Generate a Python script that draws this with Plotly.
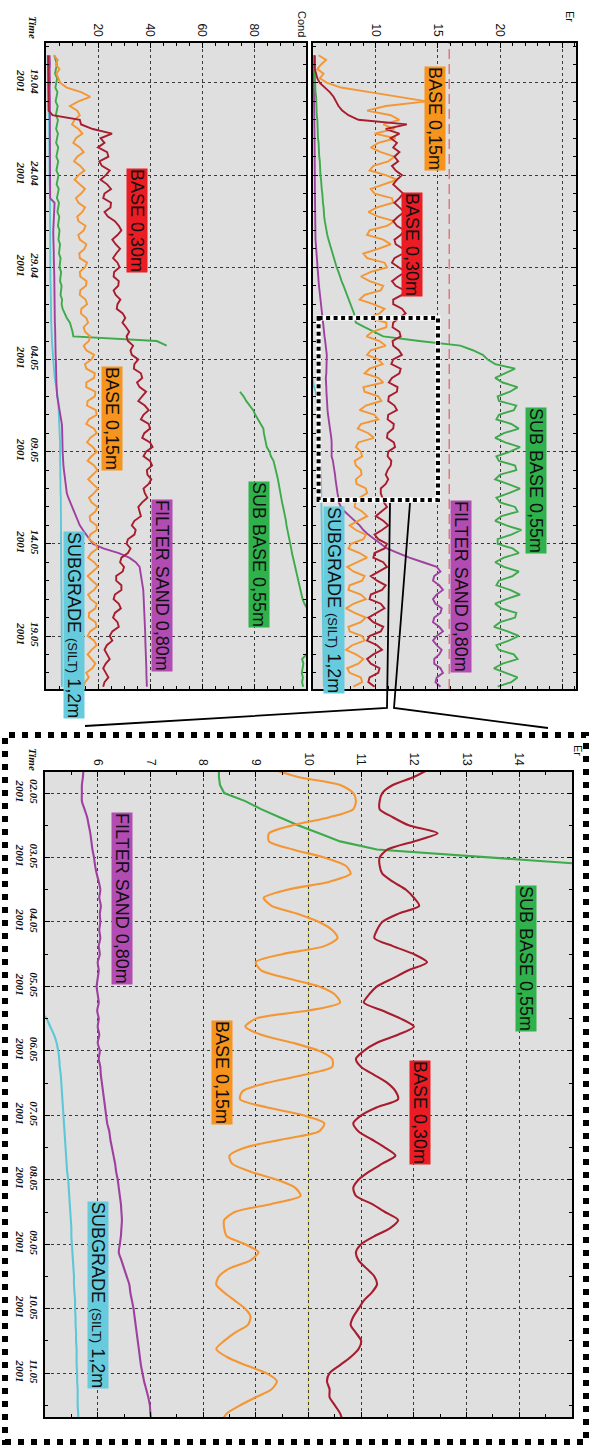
import pandas as pd
import plotly.graph_objects as go

# ---------------------------------------------------------------- time bases
main_time = pd.date_range("2001-04-17 12:00", periods=138, freq="6h")
zoom_time = pd.date_range("2001-05-01 15:00", periods=82, freq="3h")

# ---------------------------------------------------------------- Er, full period
er_base015 = [
    5.4, 6.0, 5.6, 5.3, 5.8, 5.5, 6.1, 7.2,
    9.5, 12.0, 14.1, 10.8, 9.3,
    11.2, 11.9, 10.6, 11.5, 9.9, 11.6, 10.2,
    9.6, 10.4, 11.5, 11.0, 9.8, 9.5, 10.8, 11.7, 10.6, 9.6, 9.9, 11.3, 11.4, 10.1, 9.4, 10.2,
    11.5, 10.9, 9.5, 9.3, 10.6, 11.2, 10.2, 9.0, 9.3, 10.7, 10.9, 9.6, 8.8, 9.5, 10.6, 10.4,
    9.1, 8.7, 9.8, 10.7, 10.3, 9.4,
    10.85, 10.85, 9.7, 9.25, 10.3, 10.8, 9.6, 9.3, 10.2, 10.55, 9.5, 9.1, 10.2, 10.6, 9.0, 9.1,
    10.2, 10.45, 9.2, 8.7, 9.9, 10.2, 8.8, 8.55, 9.4, 9.85, 8.6, 8.4, 8.8, 8.9, 8.3, 8.4,
    8.8, 8.85, 8.4, 8.45, 9.2, 9.3, 8.7, 8.35,
    8.3, 8.9, 9.3, 8.6, 7.9, 8.4, 9.2, 9.0, 8.0, 7.8, 8.7, 9.3, 8.5, 7.7, 8.2, 9.1, 8.9, 7.9,
    7.8, 8.8, 9.2, 8.2, 7.6, 8.3, 9.2, 8.8, 7.8, 7.9, 8.9, 9.1, 8.1, 7.6, 8.4, 9.0, 8.6, 7.7,
    7.9, 8.8, 8.9, 8.2,
]
er_base030 = [
    5.1, 5.1, 5.15, 5.1, 5.2, 5.3, 5.5, 5.9, 6.3, 6.6, 6.8, 7.0, 7.3, 7.8, 8.6,
    12.5, 10.8, 11.9, 11.2, 11.7, 11.4, 11.9, 11.5, 11.8, 11.3, 11.6, 12.1, 11.7, 11.4, 11.8,
    12.2, 11.9, 11.5, 11.9, 12.3, 11.8, 11.4, 11.7, 12.3, 12.0, 11.5, 11.6, 12.2, 12.2, 11.5,
    11.3, 11.9, 12.4, 11.8, 11.3, 11.6, 12.3, 12.1, 11.4, 11.4, 12.1, 12.4, 11.9,
    11.4, 11.35, 11.9, 12.0, 11.35, 11.4, 11.85, 12.1, 11.4, 11.25, 12.0, 11.9, 11.3, 11.05,
    11.75, 11.7, 11.05, 11.0, 11.5, 11.7, 11.0, 10.95, 11.45, 11.4, 10.95, 10.9, 11.45, 11.55,
    11.0, 10.95, 11.25, 11.2, 10.95, 10.8, 11.0, 10.8, 10.4, 10.4, 10.5, 10.65,
    10.9, 10.4, 10.0, 10.6, 11.0, 10.5, 9.9, 10.2, 10.9, 10.7, 9.9, 9.8, 10.6, 10.9, 10.2, 9.6,
    10.1, 10.8, 10.5, 9.6, 9.5, 10.4, 10.7, 10.0, 9.4, 9.8, 10.6, 10.4, 9.5, 9.3, 10.1, 10.5,
    9.8, 9.3, 9.6, 10.3, 10.2, 9.5, 9.4, 9.9,
]
er_subbase055 = [
    5.0, 5.0, 5.05, 5.05, 5.1, 5.1, 5.1, 5.15, 5.15, 5.2,
    5.2, 5.2, 5.25, 5.25, 5.3, 5.3, 5.3, 5.35, 5.35, 5.4,
    5.4, 5.45, 5.45, 5.5, 5.5, 5.55, 5.55, 5.6, 5.6, 5.65,
    5.7, 5.7, 5.75, 5.8, 5.8, 5.85, 5.9, 5.95, 6.0, 6.1,
    6.2, 6.3, 6.4, 6.5, 6.6, 6.7, 6.85, 7.0, 7.1, 7.25,
    7.4, 7.55, 7.7, 7.85, 8.0, 8.15, 8.25, 8.3,
    8.4, 9.1, 9.8, 10.6, 13.5,
    16.8, 17.8, 18.6, 19.0, 19.6, 21.2, 20.4, 19.6, 20.2, 21.4,
    20.8, 19.8, 19.9, 21.3, 21.1, 19.9, 19.7, 20.9, 21.5, 20.3,
    19.6, 20.4, 21.6, 20.8, 19.7, 19.9, 21.2, 21.3, 20.0, 19.6,
    20.6, 21.6, 20.7, 19.7, 20.0, 21.2, 21.4, 20.1, 19.6, 20.5,
    21.7, 20.9, 19.8, 19.8, 21.0, 21.5, 20.3, 19.6, 20.3, 21.5,
    21.0, 19.9, 19.7, 20.8, 21.6, 20.5, 19.6, 20.1, 21.3, 21.2,
    20.0, 19.5, 20.6, 21.5, 20.7, 19.7, 19.9, 21.1, 21.4, 20.2,
    19.5, 20.4, 21.4, 20.9, 19.8,
]
er_filtersand080 = [
    4.95, 4.98, 5.0, 5.0, 5.0, 5.02, 5.0, 5.02, 5.03, 5.03,
    5.04, 5.04, 5.05, 5.05, 5.06, 5.06, 5.07, 5.07, 5.08, 5.08,
    5.08, 5.09, 5.09, 5.1, 5.1, 5.1, 5.1, 5.1, 5.1, 5.1,
    5.1, 5.1, 5.1, 5.1, 5.1, 5.1, 5.1, 5.1, 5.1, 5.12,
    5.15, 5.18, 5.2, 5.22, 5.25, 5.28, 5.3, 5.33, 5.36, 5.4,
    5.43, 5.47, 5.5, 5.54, 5.58, 5.62, 5.66, 5.7,
    5.7, 5.75, 5.83, 5.88, 5.93, 5.98, 6.05, 6.06, 6.05, 6.05,
    6.04, 6.02, 5.98, 6.02, 6.02, 6.03, 6.04, 6.05, 6.08, 6.12,
    6.16, 6.22, 6.27, 6.33, 6.38, 6.42, 6.45, 6.45, 6.42, 6.45,
    6.55, 6.62, 6.68, 6.72, 6.76, 6.8, 6.85, 6.92, 6.99, 7.02,
    7.2, 7.5, 7.9, 8.3, 8.7, 9.0, 9.4, 9.9, 10.4, 10.9,
    11.8, 12.7, 13.8, 14.9, 15.2, 14.7, 14.6, 15.1, 15.4, 14.9,
    14.6, 14.8, 15.3, 15.2, 14.7, 14.6, 15.1, 15.4, 14.9, 14.6,
    14.9, 15.3, 15.1, 14.7, 14.7, 15.2, 15.4, 14.9, 14.8, 15.2,
]
# subgrade is only logged from 05.05 onwards (main_time[70:])
er_subgrade = [
    4.9, 4.96,
    5.03, 5.17, 5.25, 5.28, 5.31, 5.33, 5.35, 5.37, 5.39, 5.41, 5.44, 5.46, 5.48, 5.5,
    5.51, 5.53, 5.55, 5.56, 5.57, 5.58, 5.59, 5.6, 5.61, 5.62, 5.62, 5.63,
    5.63, 5.64, 5.64, 5.65, 5.65, 5.66, 5.66, 5.67, 5.67, 5.68, 5.68, 5.69, 5.69, 5.7,
    5.7, 5.71, 5.71, 5.72, 5.72, 5.73, 5.73, 5.74, 5.74, 5.75, 5.75, 5.76, 5.76, 5.77,
    5.77, 5.78, 5.78, 5.79, 5.79, 5.8, 5.8, 5.81, 5.81, 5.82, 5.82, 5.83,
]

# ---------------------------------------------------------------- conductivity
cond_base030 = [
    0.8, 0.8, 0.9, 0.8, 0.8, 0.9, 0.8, 0.8, 0.9, 0.8, 0.8, 0.9, 1.0,
    2.5, 13.0, 13.5, 18.0, 25.4, 21.0,
    22.5, 20.0, 23.5, 24.0, 20.5, 21.5, 24.5, 23.0, 21.0, 23.5,
    25.0, 22.5, 22.0, 25.0, 24.8, 22.5, 23.8, 26.5, 28.0, 29.0,
    27.5, 25.5, 26.8, 28.5, 27.0, 25.8, 27.5, 28.3, 26.2, 26.0,
    28.0, 27.8, 26.0, 26.8, 28.6, 27.5, 27.2, 29.5, 30.5, 29.4,
    30.8, 32.0, 31.0, 31.5, 33.5, 32.5, 33.0, 35.5, 34.0, 33.8,
    36.5, 37.0, 35.0, 36.0, 38.5, 37.0, 35.5, 38.0, 39.5, 37.5,
    36.5, 39.5, 40.0, 37.8, 37.0, 40.0, 41.0, 38.5, 37.5, 40.0,
    40.8, 38.8,
    39.0, 40.5, 39.5, 37.5, 38.0, 39.0, 37.0, 35.5, 36.0, 36.5,
    34.0, 33.0, 34.5, 34.0, 31.5, 31.0, 32.5, 31.5, 29.0, 28.5,
    30.0, 29.5, 27.0, 27.0, 29.0, 29.0, 26.5, 26.0, 28.0, 28.8,
    26.5, 25.8, 27.5, 28.0, 25.5, 24.5, 25.5, 23.4, 22.5, 23.5,
    24.5, 23.0, 22.0, 23.0, 24.0, 22.5, 22.0,
]
cond_base015 = [
    3.0, 4.5, 3.8, 5.2, 4.0, 4.8, 5.5, 8.0, 13.5, 17.0,
    12.5, 9.2, 12.0, 13.0, 11.0, 10.0, 12.5, 14.0, 11.5, 10.5,
    13.0, 14.5, 12.0, 10.8, 13.2, 14.8, 12.5, 11.0, 12.8, 15.0,
    13.5, 11.5, 12.5, 15.0, 14.0, 12.0, 12.5, 15.2, 14.5,
    12.4, 13.0, 15.5, 14.8, 12.8, 13.0, 15.8, 15.0, 13.0, 13.2,
    15.6, 15.4, 13.2, 13.0, 15.2, 15.8, 13.6, 13.4, 15.5, 16.2,
    14.5, 15.0, 17.0, 16.5, 14.5, 15.5, 18.5, 17.5, 15.0, 15.5,
    18.8, 18.5, 15.5, 15.5, 19.0, 18.8, 16.0, 15.8, 19.2, 19.5,
    16.5, 15.5, 18.5, 19.5, 17.0, 15.8, 18.0, 19.5, 17.5, 16.0,
    18.5, 19.8, 18.0, 16.2, 18.0, 20.0, 18.5, 16.5, 17.5, 19.8,
    19.0, 16.8, 17.0, 19.5, 19.5, 17.0, 16.5, 19.0, 19.8, 17.5,
    16.2, 18.5, 20.0, 18.0, 16.0, 17.8, 19.8, 18.5, 16.2, 17.2,
    19.5, 19.0, 16.5, 16.5, 19.0, 19.5, 17.0, 16.0, 18.5, 19.5,
    17.5, 16.0, 17.5, 19.0, 17.8, 15.5, 16.5, 15.0, 14.5,
]
cond_subbase055 = [
    3.2, 3.6, 4.2, 3.8, 3.5, 4.3, 4.0, 3.6, 4.4, 4.1,
    3.7, 4.5, 4.2, 3.8, 4.6, 4.2, 3.9, 4.6, 4.3, 3.9,
    4.7, 4.3, 4.0, 4.7, 4.4, 4.0, 4.8, 4.5, 4.1, 4.9,
    4.6, 4.2, 5.0, 4.7, 4.4, 5.1, 4.8, 4.6, 5.2, 4.9,
    4.8, 5.4, 5.1, 5.0, 5.6, 5.3, 5.2, 5.8, 5.5, 5.4,
    6.0, 5.7, 5.6, 6.2, 6.0, 6.4, 7.2,
    8.0, 9.2, 9.8, 10.2, 10.5, 42.6, 46.4,
    None, None, None, None, None, None, None, None, None,
    74.6, 76.0, 77.0, 78.5, 79.7, 80.5, 81.5, 82.5, 83.6, 83.8,
    84.2, 84.6, 84.9, 86.0, 86.5, 87.5, 88.0, 88.3, 88.8, 89.2,
    89.5, 89.8, 90.0, 90.4, 90.8, 91.2, 91.6, 92.0, 92.3, 92.5,
    92.9, 93.3, 93.6, 94.0, 94.3, 94.6, 95.0, 95.3, 95.7, 96.1,
    96.5, 96.9, 97.3, 97.7, 98.2, 98.7, 99.4, 100.5, 101.5, 102.5,
    103.0, 103.5, 103.0, 102.5, 102.0, 101.5, 100.8, 100.2, 98.5, 99.0,
    98.8, 98.4, 98.8, 98.5, 98.9,
]
cond_filtersand080 = [
    1.4, 1.5, 1.5, 1.4, 1.5, 1.5, 1.5, 1.4, 1.5, 1.5,
    1.5, 1.5, 1.4, 1.5, 1.5, 1.5, 1.5, 1.5, 1.4, 1.5,
    1.5, 1.5, 1.5, 1.5, 1.5, 1.4, 1.5, 1.5, 1.5, 1.5,
    1.6, 1.6,
    3.3, 3.2, 3.0, 3.0, 2.9, 2.8, 2.8, 2.8, 2.9, 2.9,
    3.0, 3.0, 3.0, 3.1, 3.1, 3.1, 3.2, 3.2, 3.2, 3.3,
    3.3, 3.3, 3.3, 3.4, 3.4, 3.4, 3.4, 3.5, 3.5, 3.5,
    3.6, 3.6, 3.7, 3.7, 3.8, 3.8, 3.9, 3.9, 4.0, 4.0,
    4.1, 4.1, 4.3, 4.6, 4.9, 5.3, 5.7, 6.0, 6.1, 6.2,
    6.2, 6.3, 6.3, 6.4, 6.4, 6.5,
    6.5, 6.7, 6.9, 7.1, 7.3, 7.5, 7.7, 8.0, 8.6, 9.3,
    10.0, 10.8, 11.6, 12.3, 13.0, 14.2, 15.5, 16.8, 18.0, 22.0,
    28.0, 32.0, 34.5, 36.0, 36.3, 36.6, 36.9, 37.1, 37.4, 37.5,
    37.6, 37.6, 37.7, 37.8, 37.9, 38.0, 38.0, 38.1, 38.2, 38.2,
    38.3, 38.4, 38.4, 38.5, 38.5, 38.6, 38.6, 38.7, 38.7, 38.8,
]
cond_subgrade = [
    0.6, 0.7, 0.8, 0.8, 0.8, 0.9, 0.9, 0.9, 1.0, 1.0,
    1.0, 1.1, 1.1, 1.1, 1.2, 1.2, 1.2, 1.2, 1.3, 1.3,
    1.3, 1.3, 1.3, 1.4, 1.4, 1.4, 1.4, 1.4, 1.4, 1.5,
    1.5, 1.5, 1.5, 1.5, 1.5, 1.5, 1.5, 1.5,
    1.5, 1.5, 1.5, 1.6, 1.6, 1.6, 1.6, 1.6, 1.7, 1.7,
    1.7, 1.7, 1.8, 1.8, 1.8, 1.9, 1.9, 1.9, 2.0, 2.0,
    2.0, 2.1, 2.1,
    2.2, 2.3, 2.4, 2.5, 2.6, 2.7, 2.8, 3.0, 3.2, 3.4,
    3.7, 4.0, 4.3, 4.5, 4.7, 4.8, 4.9, 5.0, 5.1, 5.2,
    5.3, 5.3, 5.4, 5.4, 5.4, 5.4, 5.5, 5.5,
    5.5, 5.5, 5.6, 5.6, 5.6, 5.6, 5.6, 5.7, 5.7, 5.7,
    5.7, 5.7, 5.7, 5.8, 5.8, 5.8, 5.8, 5.8, 5.8, 5.8,
    5.9, 5.9, 5.9, 5.9, 5.9, 5.9, 5.9, 5.9, 6.0, 6.0,
    6.0, 6.0, 6.0, 6.0, 6.0, 6.0, 6.0, 6.0, 6.0, 6.1,
    6.1, 6.1, 6.1, 6.1, 6.1, 6.1, 6.1, 6.1, 6.1,
]

# ---------------------------------------------------------------- Er detail, 01.05 - 11.05
zoom_base015 = [
    9.3, 9.8, 10.6, 10.85, 10.9, 10.85, 10.4, 9.7, 9.25, 9.25,
    9.7, 10.3, 10.7, 10.8, 10.4, 9.6, 9.15, 9.3, 9.8, 10.2,
    10.45, 10.55, 10.3, 9.5, 9.0, 9.1, 9.6, 10.2, 10.5, 10.6,
    10.0, 9.0, 8.8, 9.1, 9.7, 10.2, 10.45, 10.45, 9.9, 9.2,
    8.75, 8.7, 9.2, 9.9, 10.3, 10.2, 9.5, 8.8, 8.5, 8.55,
    8.9, 9.4, 9.75, 9.85, 9.3, 8.6, 8.4, 8.4, 8.45, 8.8,
    9.05, 8.9, 8.5, 8.3, 8.25, 8.4, 8.6, 8.8, 8.9, 8.85,
    8.6, 8.4, 8.25, 8.45, 8.8, 9.2, 9.4, 9.3, 9.0, 8.7,
    8.45, 8.35,
]
zoom_base030 = [
    12.3, 12.0, 11.6, 11.4, 11.35, 11.35, 11.6, 11.9, 12.45, 12.0,
    11.5, 11.35, 11.35, 11.4, 11.6, 11.85, 12.0, 12.1, 11.7, 11.4,
    11.3, 11.25, 11.6, 12.0, 12.25, 11.9, 11.6, 11.3, 11.15, 11.05,
    11.4, 11.75, 12.0, 11.7, 11.3, 11.05, 10.9, 11.0, 11.25, 11.5,
    11.65, 11.7, 11.3, 11.0, 10.85, 10.95, 11.2, 11.45, 11.65, 11.4,
    11.15, 10.95, 10.85, 10.9, 11.2, 11.45, 11.7, 11.55, 11.25, 11.0,
    10.9, 10.95, 11.1, 11.25, 11.3, 11.2, 11.05, 10.95, 10.85, 10.8,
    10.9, 11.0, 10.95, 10.8, 10.6, 10.4, 10.35, 10.4, 10.4, 10.5,
    10.6, 10.65,
]
zoom_subbase055 = [8.3, 8.3, 8.32, 8.4, 8.8, 9.1, 9.45, 9.8, 10.2, 10.6, 11.3, 13.5, 15.6, 16.8, 17.3, 17.8]
zoom_filtersand080 = [
    5.73, 5.72, 5.7, 5.7, 5.7, 5.75, 5.8, 5.83, 5.86, 5.88,
    5.9, 5.93, 5.95, 5.98, 6.02, 6.05, 6.03, 6.06, 6.04, 6.05,
    6.03, 6.05, 6.02, 6.04, 6.0, 6.02, 6.0, 5.98, 6.0, 6.02,
    5.99, 6.02, 6.0, 6.03, 6.0, 6.04, 6.02, 6.05, 6.06, 6.08,
    6.1, 6.12, 6.14, 6.16, 6.18, 6.22, 6.24, 6.27, 6.3, 6.33,
    6.35, 6.38, 6.4, 6.42, 6.44, 6.45, 6.46, 6.45, 6.44, 6.42,
    6.4, 6.45, 6.5, 6.55, 6.6, 6.62, 6.65, 6.68, 6.7, 6.72,
    6.74, 6.76, 6.78, 6.8, 6.82, 6.85, 6.88, 6.92, 6.96, 6.99,
    7.0, 7.02,
]
# subgrade detail starts at zoom_time[30]
zoom_subgrade = [
    4.9, 5.03, 5.1, 5.17, 5.22, 5.25, 5.27, 5.28, 5.3, 5.31,
    5.32, 5.33, 5.34, 5.35, 5.36, 5.37, 5.38, 5.39, 5.4, 5.41,
    5.42, 5.44, 5.45, 5.46, 5.47, 5.48, 5.49, 5.5, 5.5, 5.51,
    5.52, 5.53, 5.54, 5.55, 5.55, 5.56, 5.57, 5.57, 5.58, 5.58,
    5.59, 5.59, 5.6, 5.6, 5.6, 5.61, 5.61, 5.62, 5.62, 5.62,
    5.63, 5.63,
]

# ---------------------------------------------------------------- styling
W, H = 594, 1452
C_ORANGE = "#F39633"
C_RED = "#A81C2E"
C_GREEN = "#3DAA4C"
C_PURPLE = "#9E409F"
C_CYAN = "#5EC7D6"
BOX = {"orange": "#F7941D", "red": "#EC1C24", "green": "#2FB24B",
       "purple": "#B34CB2", "cyan": "#66CCDD"}
PLOT_BG = "#DFDFDF"
GRID = dict(showgrid=True, gridcolor="#3A3A3A", gridwidth=1, griddash="3px,3px")
FRAME = dict(showline=True, linecolor="black", linewidth=2, mirror="ticks",
             ticks="inside", ticklen=5, tickcolor="black", zeroline=False)
NUM_FONT = dict(family="Liberation Sans, Arial, sans-serif", size=12, color="#111")
DATE_FONT = dict(family="Liberation Serif, Times New Roman, serif", size=11,
                 color="#111", weight="bold", style="italic")
LABEL_FONT = dict(family="Liberation Sans, Arial, sans-serif", size=18, color="#111")


def px(x):
    return x / W


def py(y):
    return 1 - y / H


fig = go.Figure()


def line(values, times, color, axis, width=1.9, smooth=False):
    shape = dict(shape="spline", smoothing=0.7) if smooth else {}
    fig.add_trace(go.Scatter(
        x=values, y=times, mode="lines", xaxis="x" + axis, yaxis="y" + axis,
        line=dict(color=color, width=width, **shape), connectgaps=False,
        showlegend=False, hoverinfo="skip"))


# Cond panel
line(cond_subgrade, main_time, C_CYAN, "")
line(cond_filtersand080, main_time, C_PURPLE, "")
line(cond_subbase055, main_time, C_GREEN, "")
line(cond_base015, main_time, C_ORANGE, "")
line(cond_base030, main_time, C_RED, "")

# Er panel
line(er_subgrade, main_time[70:], C_CYAN, "2")
line(er_filtersand080, main_time, C_PURPLE, "2")
line(er_subbase055, main_time, C_GREEN, "2")
line(er_base015, main_time, C_ORANGE, "2")
line(er_base030, main_time, C_RED, "2")

# Er detail panel
line(zoom_subgrade, zoom_time[30:], C_CYAN, "3", 2.1, True)
line(zoom_filtersand080, zoom_time, C_PURPLE, "3", 2.1, True)
line(zoom_subbase055, zoom_time[:16], C_GREEN, "3", 2.1)
line(zoom_base015, zoom_time, C_ORANGE, "3", 2.1, True)
line(zoom_base030, zoom_time, C_RED, "3", 2.1, True)

main_range = ["2001-05-21 21:00", "2001-04-16 20:00"]
zoom_range = ["2001-05-11 16:20", "2001-05-01 16:10"]
DAY = 86400000

fig.update_layout(
    width=W, height=H, margin=dict(l=0, r=0, t=0, b=0),
    paper_bgcolor="white", plot_bgcolor=PLOT_BG, showlegend=False,
    xaxis=dict(domain=[px(46), px(306)], range=[0, 100], anchor="y", side="top",
               tickvals=[20, 40, 60, 80], tickangle=90, tickfont=NUM_FONT,
               minor=dict(ticks="inside", ticklen=3, dtick=5, tickcolor="black"),
               **GRID, **FRAME),
    yaxis=dict(domain=[py(689), py(43)], range=main_range, anchor="x", type="date",
               tick0="2001-04-19", dtick=5 * DAY, tickformat="%d.%m<br>%Y",
               tickangle=90, tickfont=DATE_FONT,
               minor=dict(ticks="inside", ticklen=3, dtick=DAY, tickcolor="black"),
               **GRID, **FRAME),
    xaxis2=dict(domain=[px(313), px(576)], range=[4.95, 26.1], anchor="y2", side="top",
                tickvals=[10, 15, 20, 25], ticktext=["10", "15", "20", ""],
                tickangle=90, tickfont=NUM_FONT,
                minor=dict(ticks="inside", ticklen=3, dtick=1, tickcolor="black"),
                **GRID, **FRAME),
    yaxis2=dict(domain=[py(689), py(43)], range=main_range, anchor="x2", type="date",
                tick0="2001-04-19", dtick=5 * DAY, showticklabels=False,
                minor=dict(ticks="inside", ticklen=3, dtick=DAY, tickcolor="black"),
                **GRID, **FRAME),
    xaxis3=dict(domain=[px(45), px(572)], range=[5, 15], anchor="y3", side="top",
                tickvals=list(range(6, 15)), tickangle=90, tickfont=NUM_FONT,
                minor=dict(ticks="inside", ticklen=3, dtick=0.5, tickcolor="black"),
                **GRID, **FRAME),
    yaxis3=dict(domain=[py(1417), py(772)], range=zoom_range, anchor="x3", type="date",
                tick0="2001-05-02", dtick=DAY, tickformat="%d.%m<br>%Y",
                tickangle=90, tickfont=DATE_FONT,
                minor=dict(ticks="inside", ticklen=3, dtick=DAY / 2, tickcolor="black"),
                **GRID, **FRAME),
)

shapes = [
    # reference level in the Er panel
    dict(type="line", xref="x2", yref="y2 domain", x0=15.9, x1=15.9, y0=0, y1=1,
         line=dict(color="#E0464A", width=1, dash="10px,5px"), layer="below"),
    # Er = 10 reference in the detail panel
    dict(type="line", xref="x3", yref="y3 domain", x0=10, x1=10, y0=0, y1=1,
         line=dict(color="#EDE04A", width=1.6), layer="below"),
    # window that is enlarged below
    dict(type="rect", xref="x2", yref="y2", x0=5.4, x1=15.0,
         y0="2001-05-01 18:00", y1="2001-05-11 15:00",
         line=dict(color="white", width=5)),
    dict(type="rect", xref="x2", yref="y2", x0=5.4, x1=15.0,
         y0="2001-05-01 18:00", y1="2001-05-11 15:00",
         line=dict(color="black", width=4, dash="4px,3.5px")),
    # callout lines
    dict(type="path", xref="paper", yref="paper",
         path=f"M {px(390)},{py(503)} L {px(387)},{py(708)} L {px(85)},{py(726)}",
         line=dict(color="black", width=1.8)),
    dict(type="path", xref="paper", yref="paper",
         path=f"M {px(410)},{py(503)} L {px(394)},{py(708)} L {px(548)},{py(728)}",
         line=dict(color="black", width=1.8)),
    # frame of the detail panel
    dict(type="rect", xref="paper", yref="paper", x0=px(5), x1=px(586),
         y0=py(1442), y1=py(735), line=dict(color="black", width=6, dash="6px,7px")),
]
fig.update_layout(shapes=shapes)


def tag(text, x, y, color):
    fig.add_annotation(text=text, x=px(x), y=py(y), xref="paper", yref="paper",
                       showarrow=False, textangle=90, bgcolor=color, borderpad=0,
                       font=LABEL_FONT, xanchor="center", yanchor="middle")


SILT = "SUBGRADE <span style='font-size:13px'>(SILT)</span> 1,2m"

# Er panel labels
tag("BASE 0,15m", 435, 118, BOX["orange"])
tag("BASE 0,30m", 412, 245, BOX["red"])
tag("SUB BASE 0,55m", 536, 480, BOX["green"])
tag("FILTER SAND 0,80m", 461, 586, BOX["purple"])
tag(SILT, 334, 600, BOX["cyan"])
# Cond panel labels
tag("BASE 0,30m", 137, 220, BOX["red"])
tag("BASE 0,15m", 112, 418, BOX["orange"])
tag("FILTER SAND 0,80m", 162, 585, BOX["purple"])
tag("SUB BASE 0,55m", 259, 554, BOX["green"])
tag(SILT, 74, 625, BOX["cyan"])
# detail panel labels
tag("SUB BASE 0,55m", 526, 958, BOX["green"])
tag("FILTER SAND 0,80m", 122, 898, BOX["purple"])
tag("BASE 0,15m", 222, 1072, BOX["orange"])
tag("BASE 0,30m", 420, 1112, BOX["red"])
tag(SILT, 98, 1295, BOX["cyan"])

AXIS_TITLE = dict(family="Liberation Sans, Arial, sans-serif", size=11, color="#111")


def title(text, x, y, font):
    fig.add_annotation(text=text, x=px(x), y=py(y), xref="paper", yref="paper",
                       showarrow=False, textangle=90, font=font,
                       xanchor="center", yanchor="middle")


title("Er", 570, 16, AXIS_TITLE)
title("Cond", 302, 24, AXIS_TITLE)
title("Time", 33, 27, DATE_FONT)
title("Time", 33, 759, DATE_FONT)
title("Er", 578, 750, AXIS_TITLE)

fig.write_html("out.html")
